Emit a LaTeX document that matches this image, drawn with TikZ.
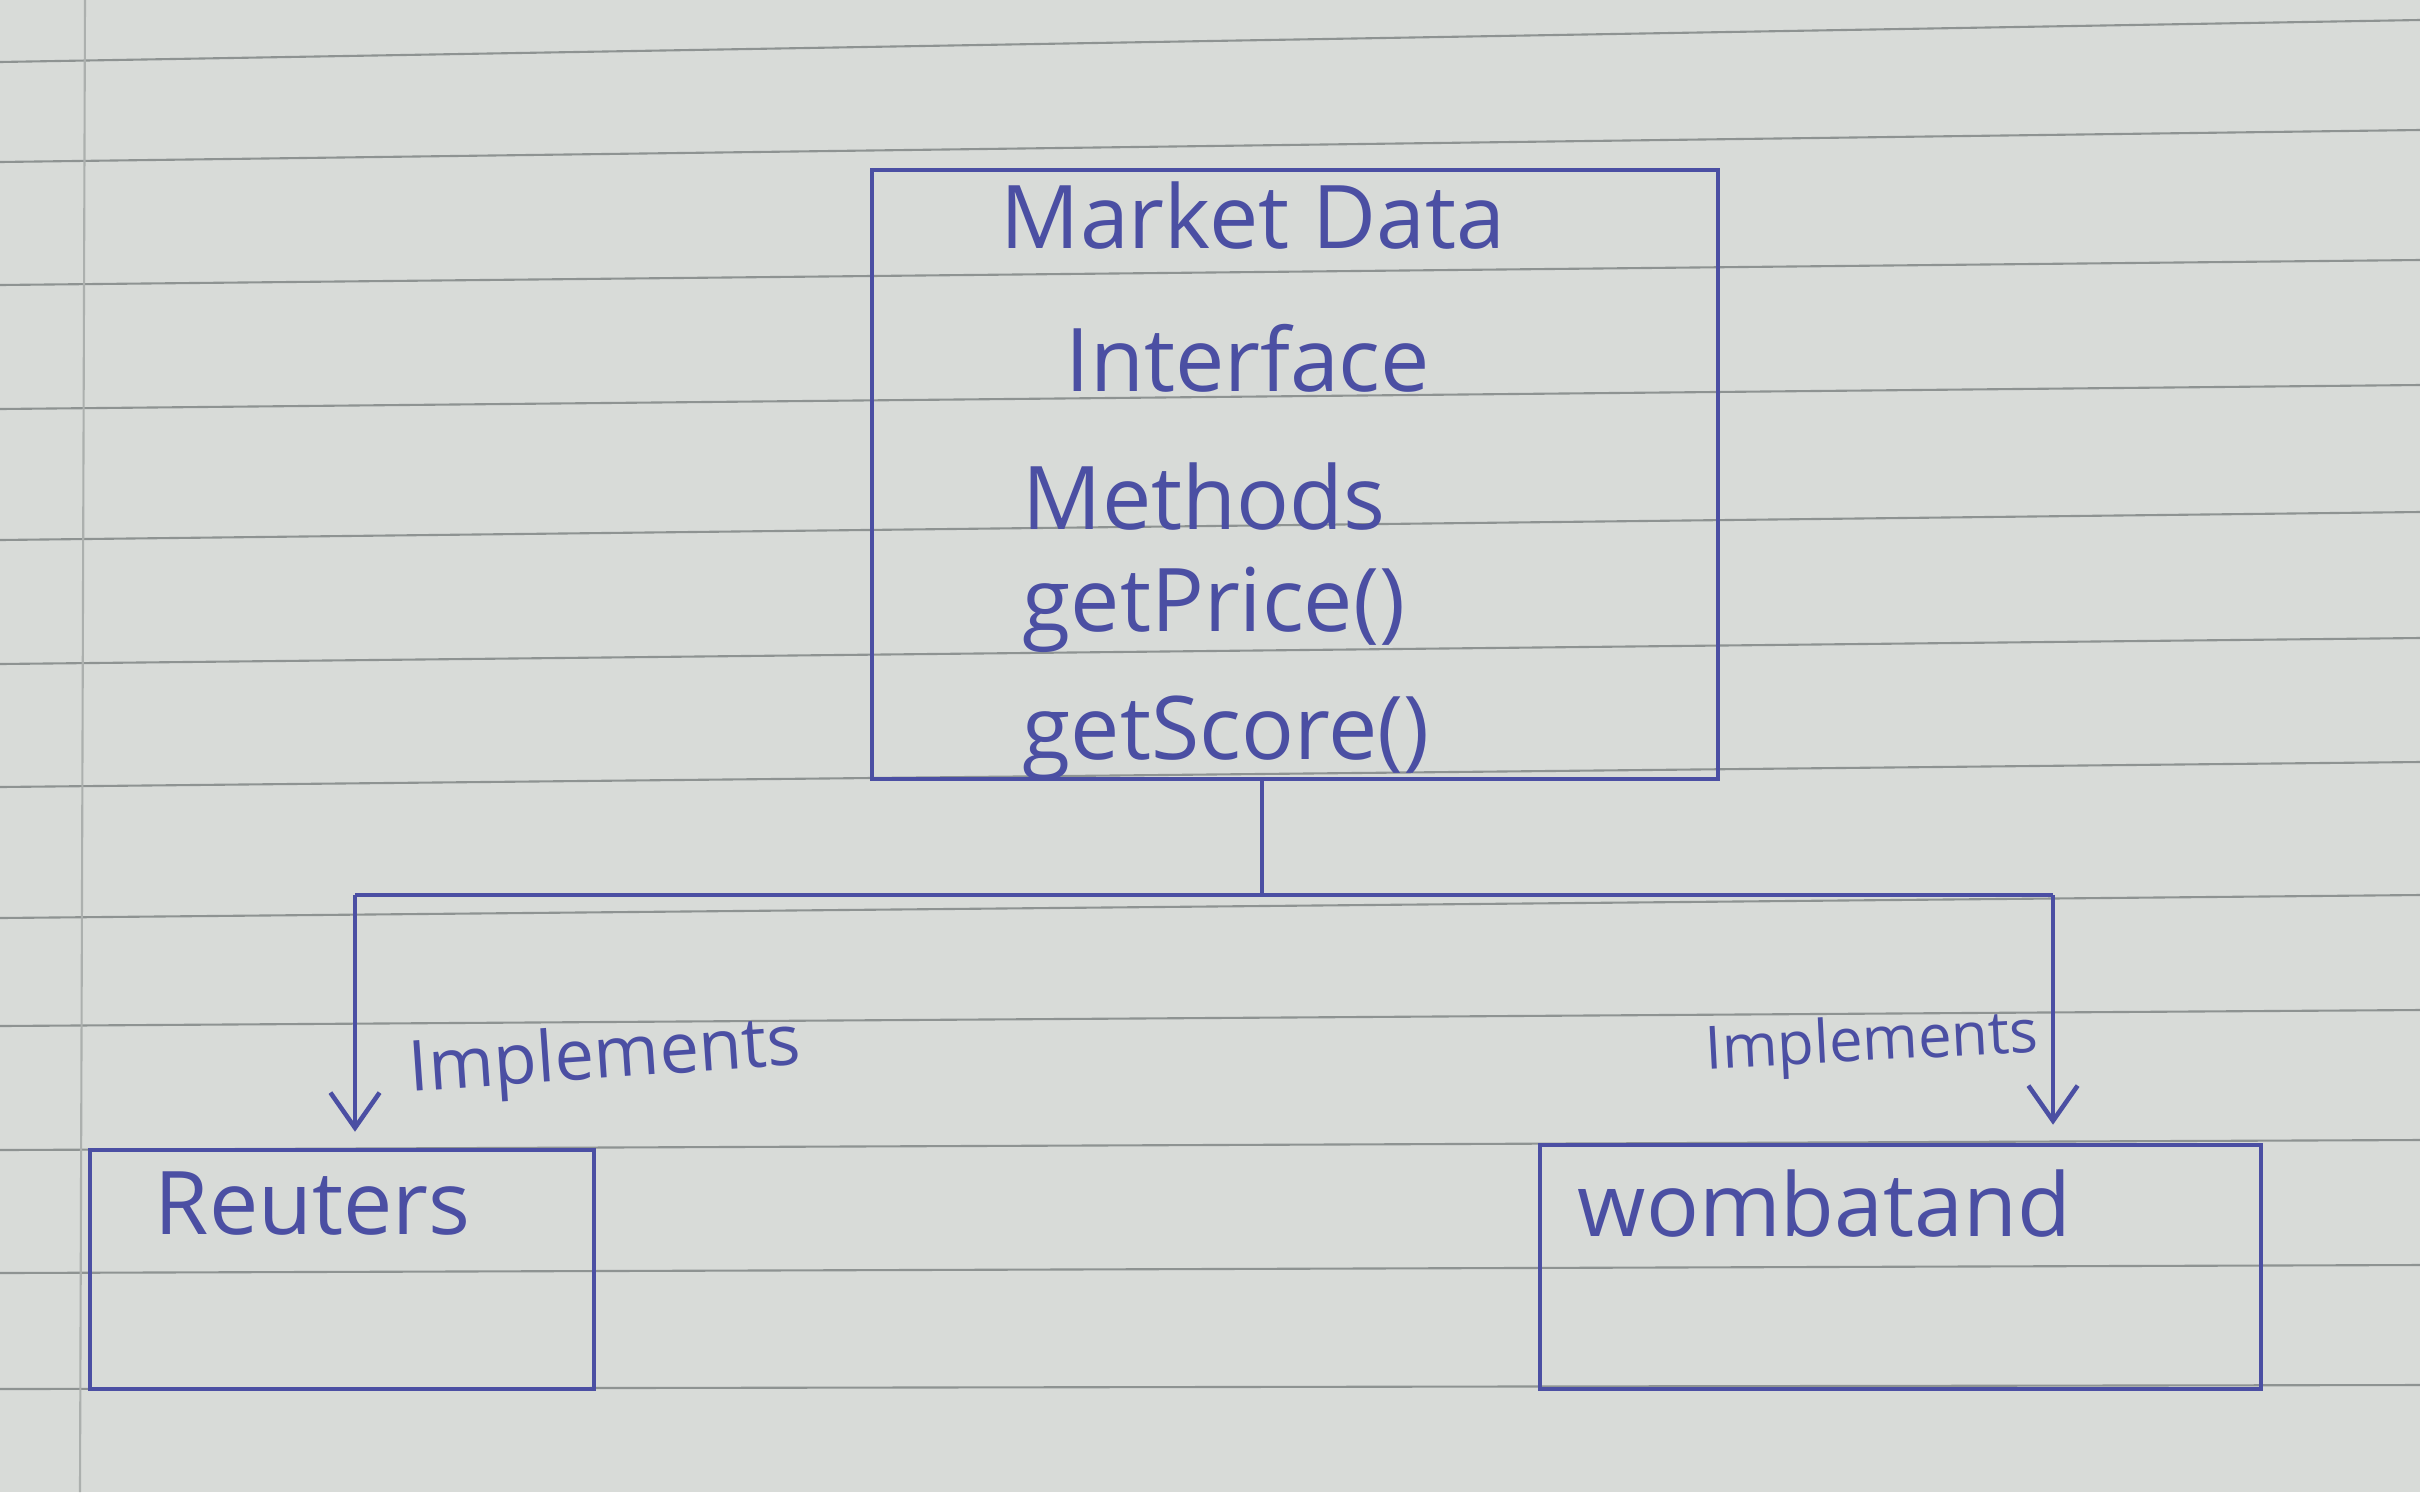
\documentclass[tikz,border=0pt]{standalone}
\usepackage{fontspec}
\setmainfont{Open Sans}
\usetikzlibrary{arrows.meta}
\definecolor{paper}{HTML}{D8DBD8}
\definecolor{rule}{HTML}{8E9392}
\definecolor{ink}{HTML}{4B4FA3}
\tikzset{
  ink/.style={draw=ink, line width=1.3pt},
  box/.style={ink, rectangle, inner sep=0pt},
  txt/.style={text=ink, font=\fontsize{25}{30}\selectfont, anchor=west, inner sep=0pt},
  lbl/.style={text=ink, font=\fontsize{20}{24}\selectfont, inner sep=0pt},
  lbls/.style={text=ink, font=\fontsize{17}{20}\selectfont, inner sep=0pt},
  conn/.style={ink},
  arr/.style={ink, -{Straight Barb[length=10pt, width=14pt]}},
  ruled/.style={draw=rule, line width=0.6pt}
}
\begin{document}
\begin{tikzpicture}[x=1cm,y=1cm]
\useasboundingbox (0,0) rectangle (24.2,-14.92);
\fill[paper] (0,0) rectangle (24.2,-14.92);
% ruled lines of the paper
\foreach \yl/\yr in {0.62/0.20, 1.62/1.30, 2.85/2.60, 4.09/3.85, 5.40/5.12, 6.64/6.38, 7.87/7.62, 9.18/8.95, 10.26/10.10, 11.50/11.40, 12.73/12.65, 13.89/13.85}
  \draw[ruled] (0,-\yl) -- (24.2,-\yr);
\draw[draw=rule!60!paper, line width=0.6pt] (0.85,0) -- (0.80,-14.92);
% interface box
\node[box, minimum width=8.46cm, minimum height=6.09cm] (mdi) at (12.95,-4.745) {};
\node[txt] (t1) at (10.00,-2.16) {Market Data};
\node[txt] (t2) at (10.65,-3.58) {Interface};
\node[txt] (t3) at (10.22,-4.97) {Methods};
\node[txt] (t4) at (10.22,-6.10) {getPrice()};
\node[txt] (t5) at (10.22,-7.38) {getScore()};
% implementing classes
\node[box, minimum width=5.04cm, minimum height=2.39cm] (reu) at (3.42,-12.695) {};
\node[txt] (reut) at (1.54,-12.04) {Reuters};
\node[box, minimum width=7.21cm, minimum height=2.44cm] (wom) at (19.005,-12.67) {};
\node[txt] (womt) at (15.77,-12.04) {wombatand};
% connectors
\coordinate (j) at (12.62,-8.95);
\coordinate (jl) at (3.55,-8.95);
\coordinate (jr) at (20.53,-8.95);
\draw[conn] (mdi.south -| j) -- (j);
\draw[conn] (jl) -- (jr);
\draw[arr, shorten >=0.16cm] (jl) -- (jl |- reu.north);
\draw[arr, shorten >=0.18cm] (jr) -- (jr |- wom.north);
\node[lbl, rotate=4] (imp1) at (6.05,-10.60) {Implements};
\node[lbls, rotate=3] (imp2) at (18.72,-10.45) {Implements};
\end{tikzpicture}
\end{document}
